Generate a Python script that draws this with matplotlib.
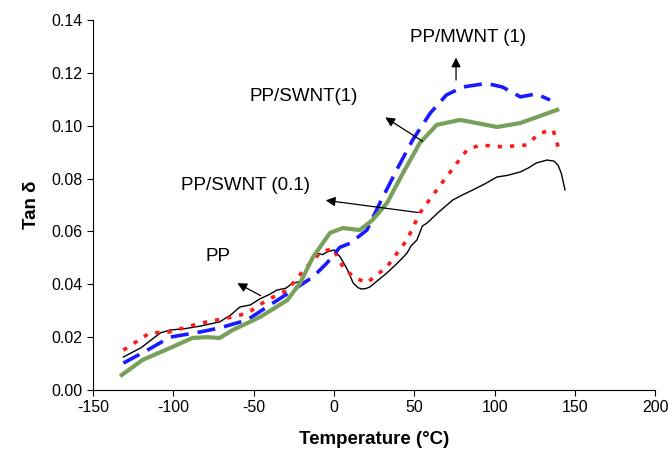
import matplotlib.pyplot as plt

plt.rcParams["font.family"] = ["Liberation Sans", "DejaVu Sans"]
plt.rcParams["axes.unicode_minus"] = False

# Tan delta vs temperature for neat PP and nanotube composites
pp_t = [-131, -120, -108, -102, -93, -83, -71, -64, -58.5, -52, -46, -40, -35.5, -30, -25.5,
        -21, -17, -13, -10.6, -7, -4.4, 0, 3.7, 8, 12, 15, 17.4, 20, 22.4, 28, 33, 40, 45.5,
        48, 51.7, 55, 58, 65, 74, 80, 86.5, 94, 101.5, 108, 116, 121, 126, 132.6, 137, 139.5,
        141.5, 143.8]
pp_tan = [0.0125, 0.016, 0.0216, 0.0227, 0.0232, 0.0242, 0.0258, 0.0285, 0.0314, 0.0322,
          0.0345, 0.0362, 0.0378, 0.0385, 0.0405, 0.041, 0.0456, 0.0502, 0.0518, 0.0512,
          0.0522, 0.053, 0.0505, 0.046, 0.0405, 0.0387, 0.0382, 0.0384, 0.039, 0.0418, 0.0443,
          0.0483, 0.0518, 0.0545, 0.0568, 0.062, 0.0632, 0.0672, 0.0719, 0.0738, 0.0757, 0.078,
          0.0806, 0.0812, 0.0825, 0.0840, 0.0859, 0.087, 0.0866, 0.085, 0.082, 0.0757]

swnt01_t = [-131, -114.6, -102, -83, -66.6, -54, -41.7, -29, -17, -8.7, -0.6, 5.6, 12, 20.5,
            33, 45.5, 53.5, 64, 76.6, 82.8, 91, 105, 120, 128, 136.4, 139.5]
swnt01_tan = [0.0151, 0.0216, 0.022, 0.0253, 0.0272, 0.029, 0.034, 0.0378, 0.0466, 0.0518,
              0.0537, 0.0466, 0.0428, 0.0405, 0.0466, 0.0568, 0.067, 0.0757, 0.0859, 0.0908,
              0.0927, 0.092, 0.0927, 0.0972, 0.0984, 0.092]

mwnt1_t = [-131, -116, -102, -83, -71, -54, -41.7, -25.5, -13, -4.4, 3.7, 10, 20.5, 28.6,
           39, 49, 60, 70, 80, 95, 105, 116, 126, 134.5]
mwnt1_tan = [0.0102, 0.0151, 0.02, 0.022, 0.0235, 0.0265, 0.0314, 0.0378, 0.0428, 0.048,
             0.054, 0.0555, 0.0605, 0.0707, 0.0832, 0.0946, 0.1048, 0.1116, 0.1146, 0.116,
             0.1146, 0.1109, 0.112, 0.1097]

swnt1_t = [-132, -119, -102, -88, -79, -71, -63, -46, -29, -21, -13, -2.5, 5.6, 16, 24,
           33, 43, 53.5, 64, 78.5, 101.5, 116, 139]
swnt1_tan = [0.0057, 0.0114, 0.0159, 0.0197, 0.02, 0.0197, 0.0227, 0.0276, 0.034, 0.0405,
             0.0503, 0.0594, 0.0613, 0.0605, 0.0643, 0.0707, 0.0821, 0.0935, 0.1003, 0.1022,
             0.0995, 0.101, 0.106]

fig = plt.figure(figsize=(6.68, 4.53), dpi=100)
ax = fig.add_axes([0.139, 0.139, 0.842, 0.817])

ax.plot(pp_t, pp_tan, color="black", lw=1.0)
ax.plot(swnt01_t, swnt01_tan, color="#ff1a1a", lw=2.6, linestyle=(0, (1.2, 2.2)))
ax.plot(mwnt1_t, mwnt1_tan, color="#1a1aff", lw=2.6, linestyle=(0, (5, 2.5)))
ax.plot(swnt1_t, swnt1_tan, color="#77a05a", lw=3.0)

arrow = dict(arrowstyle="-|>", color="black", lw=0.9, mutation_scale=14)
ax.annotate("", xy=(76, 0.1268), xytext=(76, 0.1162), arrowprops=arrow)
ax.annotate("", xy=(30.5, 0.1037), xytext=(56.7, 0.0935), arrowprops=arrow)
ax.annotate("", xy=(-6.8, 0.0719), xytext=(54.2, 0.067), arrowprops=arrow)
ax.annotate("", xy=(-61.6, 0.0409), xytext=(-44, 0.0352), arrowprops=arrow)

label_kw = dict(fontsize=13.5, ha="center", va="center")
ax.text(83.4, 0.1332, "PP/MWNT (1)", **label_kw)
ax.text(-18.7, 0.1109, "PP/SWNT(1)", **label_kw)
ax.text(-54.8, 0.0772, "PP/SWNT (0.1)", **label_kw)
ax.text(-72, 0.0507, "PP", **label_kw)

ax.set_xlim(-150, 200)
ax.set_ylim(0, 0.14)
ax.set_xticks(range(-150, 201, 50))
ax.set_yticks([i * 0.02 for i in range(8)])
ax.yaxis.set_major_formatter(plt.FormatStrFormatter("%.2f"))
ax.tick_params(labelsize=11.5, direction="out", length=4)
ax.spines["top"].set_visible(False)
ax.spines["right"].set_visible(False)
ax.set_xlabel("Temperature (°C)", fontsize=13.5, fontweight="bold", labelpad=11)
ax.set_ylabel("Tan δ", fontsize=13.5, fontweight="bold", labelpad=8)

fig.savefig("out.png", dpi=100)
